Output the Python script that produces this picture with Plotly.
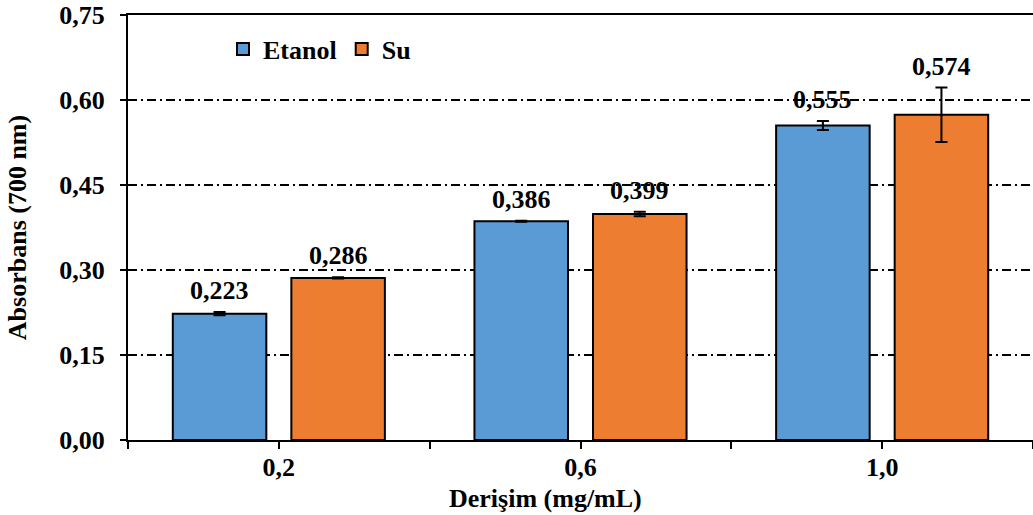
import plotly.graph_objects as go

# dane z wykresu
derisim = ["0,2", "0,6", "1,0"]
etanol = [0.223, 0.386, 0.555]
su = [0.286, 0.399, 0.574]
etanol_hata = [0.003, 0.001, 0.008]
su_hata = [0.001, 0.004, 0.048]

font_fam = "Times New Roman, Liberation Serif, serif"
x = list(range(len(derisim)))

fig = go.Figure()
fig.add_trace(go.Bar(x=x, y=etanol, name="Etanol", marker_color="#5B9BD5",
                     marker_line=dict(color="black", width=2),
                     error_y=dict(type="data", array=etanol_hata, color="black", thickness=2, width=6)))
fig.add_trace(go.Bar(x=x, y=su, name="Su", marker_color="#ED7D31",
                     marker_line=dict(color="black", width=2),
                     error_y=dict(type="data", array=su_hata, color="black", thickness=2, width=6)))

# etykiety nad slupkami
off = 0.197
for i in x:
    for dx, val, err in [(-off, etanol[i], etanol_hata[i]), (off, su[i], su_hata[i])]:
        fig.add_annotation(x=i + dx, y=val + err, text=("%.3f" % val).replace(".", ","),
                           showarrow=False, yanchor="bottom", yshift=5,
                           font=dict(family=font_fam, size=26, color="black", weight="bold"))

# tytul osi x (przesuniety w lewo jak w oryginale)
fig.add_annotation(text="Derişim (mg/mL)", xref="paper", yref="paper", x=0.461, y=-0.138,
                   xanchor="center", yanchor="middle", showarrow=False,
                   font=dict(family=font_fam, size=26, color="black", weight="bold"))

fig.update_layout(
    width=1033, height=515,
    margin=dict(l=128, r=0, t=15, b=75),
    plot_bgcolor="white", paper_bgcolor="white",
    barmode="group", bargap=0.214, bargroupgap=0.211,
    separators=", ",
    font=dict(family=font_fam, size=26, color="black", weight="bold"),
    legend=dict(orientation="h", x=0.105, y=0.92, xanchor="left", yanchor="middle",
                bgcolor="rgba(0,0,0,0)", font=dict(size=26), itemwidth=30, traceorder="normal"),
    xaxis=dict(range=[-0.5, 2.5], tickvals=[-0.5, 0, 0.5, 1, 1.5, 2, 2.5],
               ticktext=["", derisim[0], "", derisim[1], "", derisim[2], ""],
               showline=True, linecolor="black", linewidth=2, mirror=True,
               ticks="outside", ticklen=7, tickwidth=2, tickcolor="black",
               ticklabelstandoff=-4,
               showgrid=False, zeroline=False),
    yaxis=dict(range=[0, 0.75], tickvals=[0, 0.15, 0.30, 0.45, 0.60, 0.75], tickformat=".2f",
               showline=True, linecolor="black", linewidth=2,
               ticks="outside", ticklen=6, tickwidth=2, tickcolor="black",
               ticklabelstandoff=10,
               showgrid=True, gridcolor="black", gridwidth=1.5, griddash="9px,4px,2px,4px",
               zeroline=False,
               title=dict(text="Absorbans (700 nm)", standoff=25, font=dict(size=26))),
)

fig.write_html("out.html", config={"displayModeBar": False},
               post_script="document.body.style.margin='0px';")
